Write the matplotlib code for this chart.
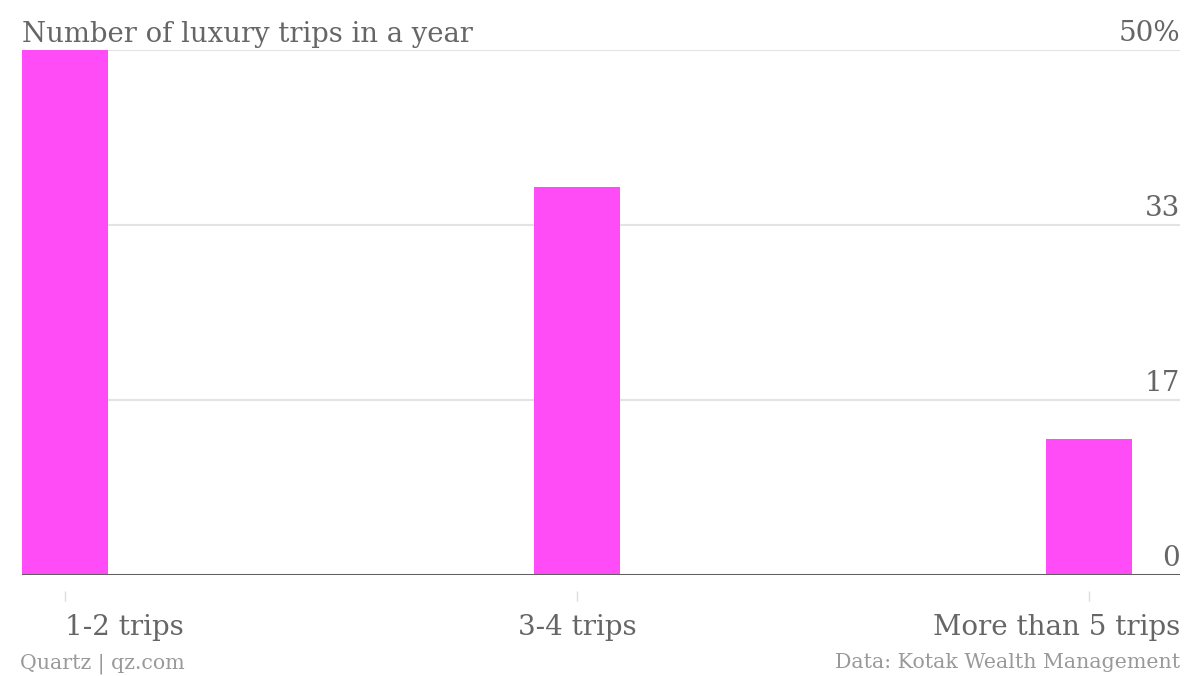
import matplotlib
matplotlib.use("Agg")
import matplotlib.pyplot as plt

categories = ["1-2 trips", "3-4 trips", "More than 5 trips"]
values = [50, 37, 13]
ytick_vals = [0, 50 / 3, 100 / 3, 50]
ytick_labels = ["0", "17", "33", "50%"]

plt.rcParams["font.family"] = ["DejaVu Serif"]
text_col = "#666666"
foot_col = "#999999"

fig = plt.figure(figsize=(12, 6.76), dpi=100)
ax = fig.add_axes([22 / 1200, 1 - 575 / 676, (1180 - 22) / 1200, 525 / 676])

x = list(range(len(categories)))
ax.bar(x, values, width=0.168, color="#ff4cf7", zorder=2)
ax.set_xlim(-0.084, 2.178)
ax.set_ylim(0, 50)

# gridlines and right-hand value labels
for v, lab in zip(ytick_vals, ytick_labels):
    if v > 0:
        ax.axhline(v, color="#e3e3e3", lw=1.5, zorder=1)
    ax.text(1.0, v + 0.3, lab, transform=ax.get_yaxis_transform(),
            ha="right", va="bottom", fontsize=20, color=text_col)
ax.axhline(0, color="#606060", lw=2.2, zorder=3)

for s in ax.spines.values():
    s.set_visible(False)
ax.set_xticks([])
ax.set_yticks([])

# small detached tick marks under each bar
ax.vlines(x, -0.0305, -0.0495, transform=ax.get_xaxis_transform(),
          color="#dddddd", lw=1, clip_on=False)

aligns = ["left", "center", "right"]
for i, (lab, ha) in enumerate(zip(categories, aligns)):
    if ha == "right":
        ax.text(1.0, -0.115, lab, transform=ax.transAxes, ha="right",
                va="baseline", fontsize=20, color=text_col)
    else:
        ax.text(i, -0.115, lab, transform=ax.get_xaxis_transform(), ha=ha,
                va="baseline", fontsize=20, color=text_col)

fig.text(22 / 1200, 1 - 42 / 676, "Number of luxury trips in a year",
         ha="left", va="baseline", fontsize=19.8, color=text_col)
fig.text(20 / 1200, 1 - 668 / 676, "Quartz | qz.com", ha="left",
         va="baseline", fontsize=14.8, color=foot_col)
fig.text(1180 / 1200, 1 - 668 / 676, "Data: Kotak Wealth Management",
         ha="right", va="baseline", fontsize=14.8, color=foot_col)

fig.savefig("out.png", dpi=100, facecolor="white")
